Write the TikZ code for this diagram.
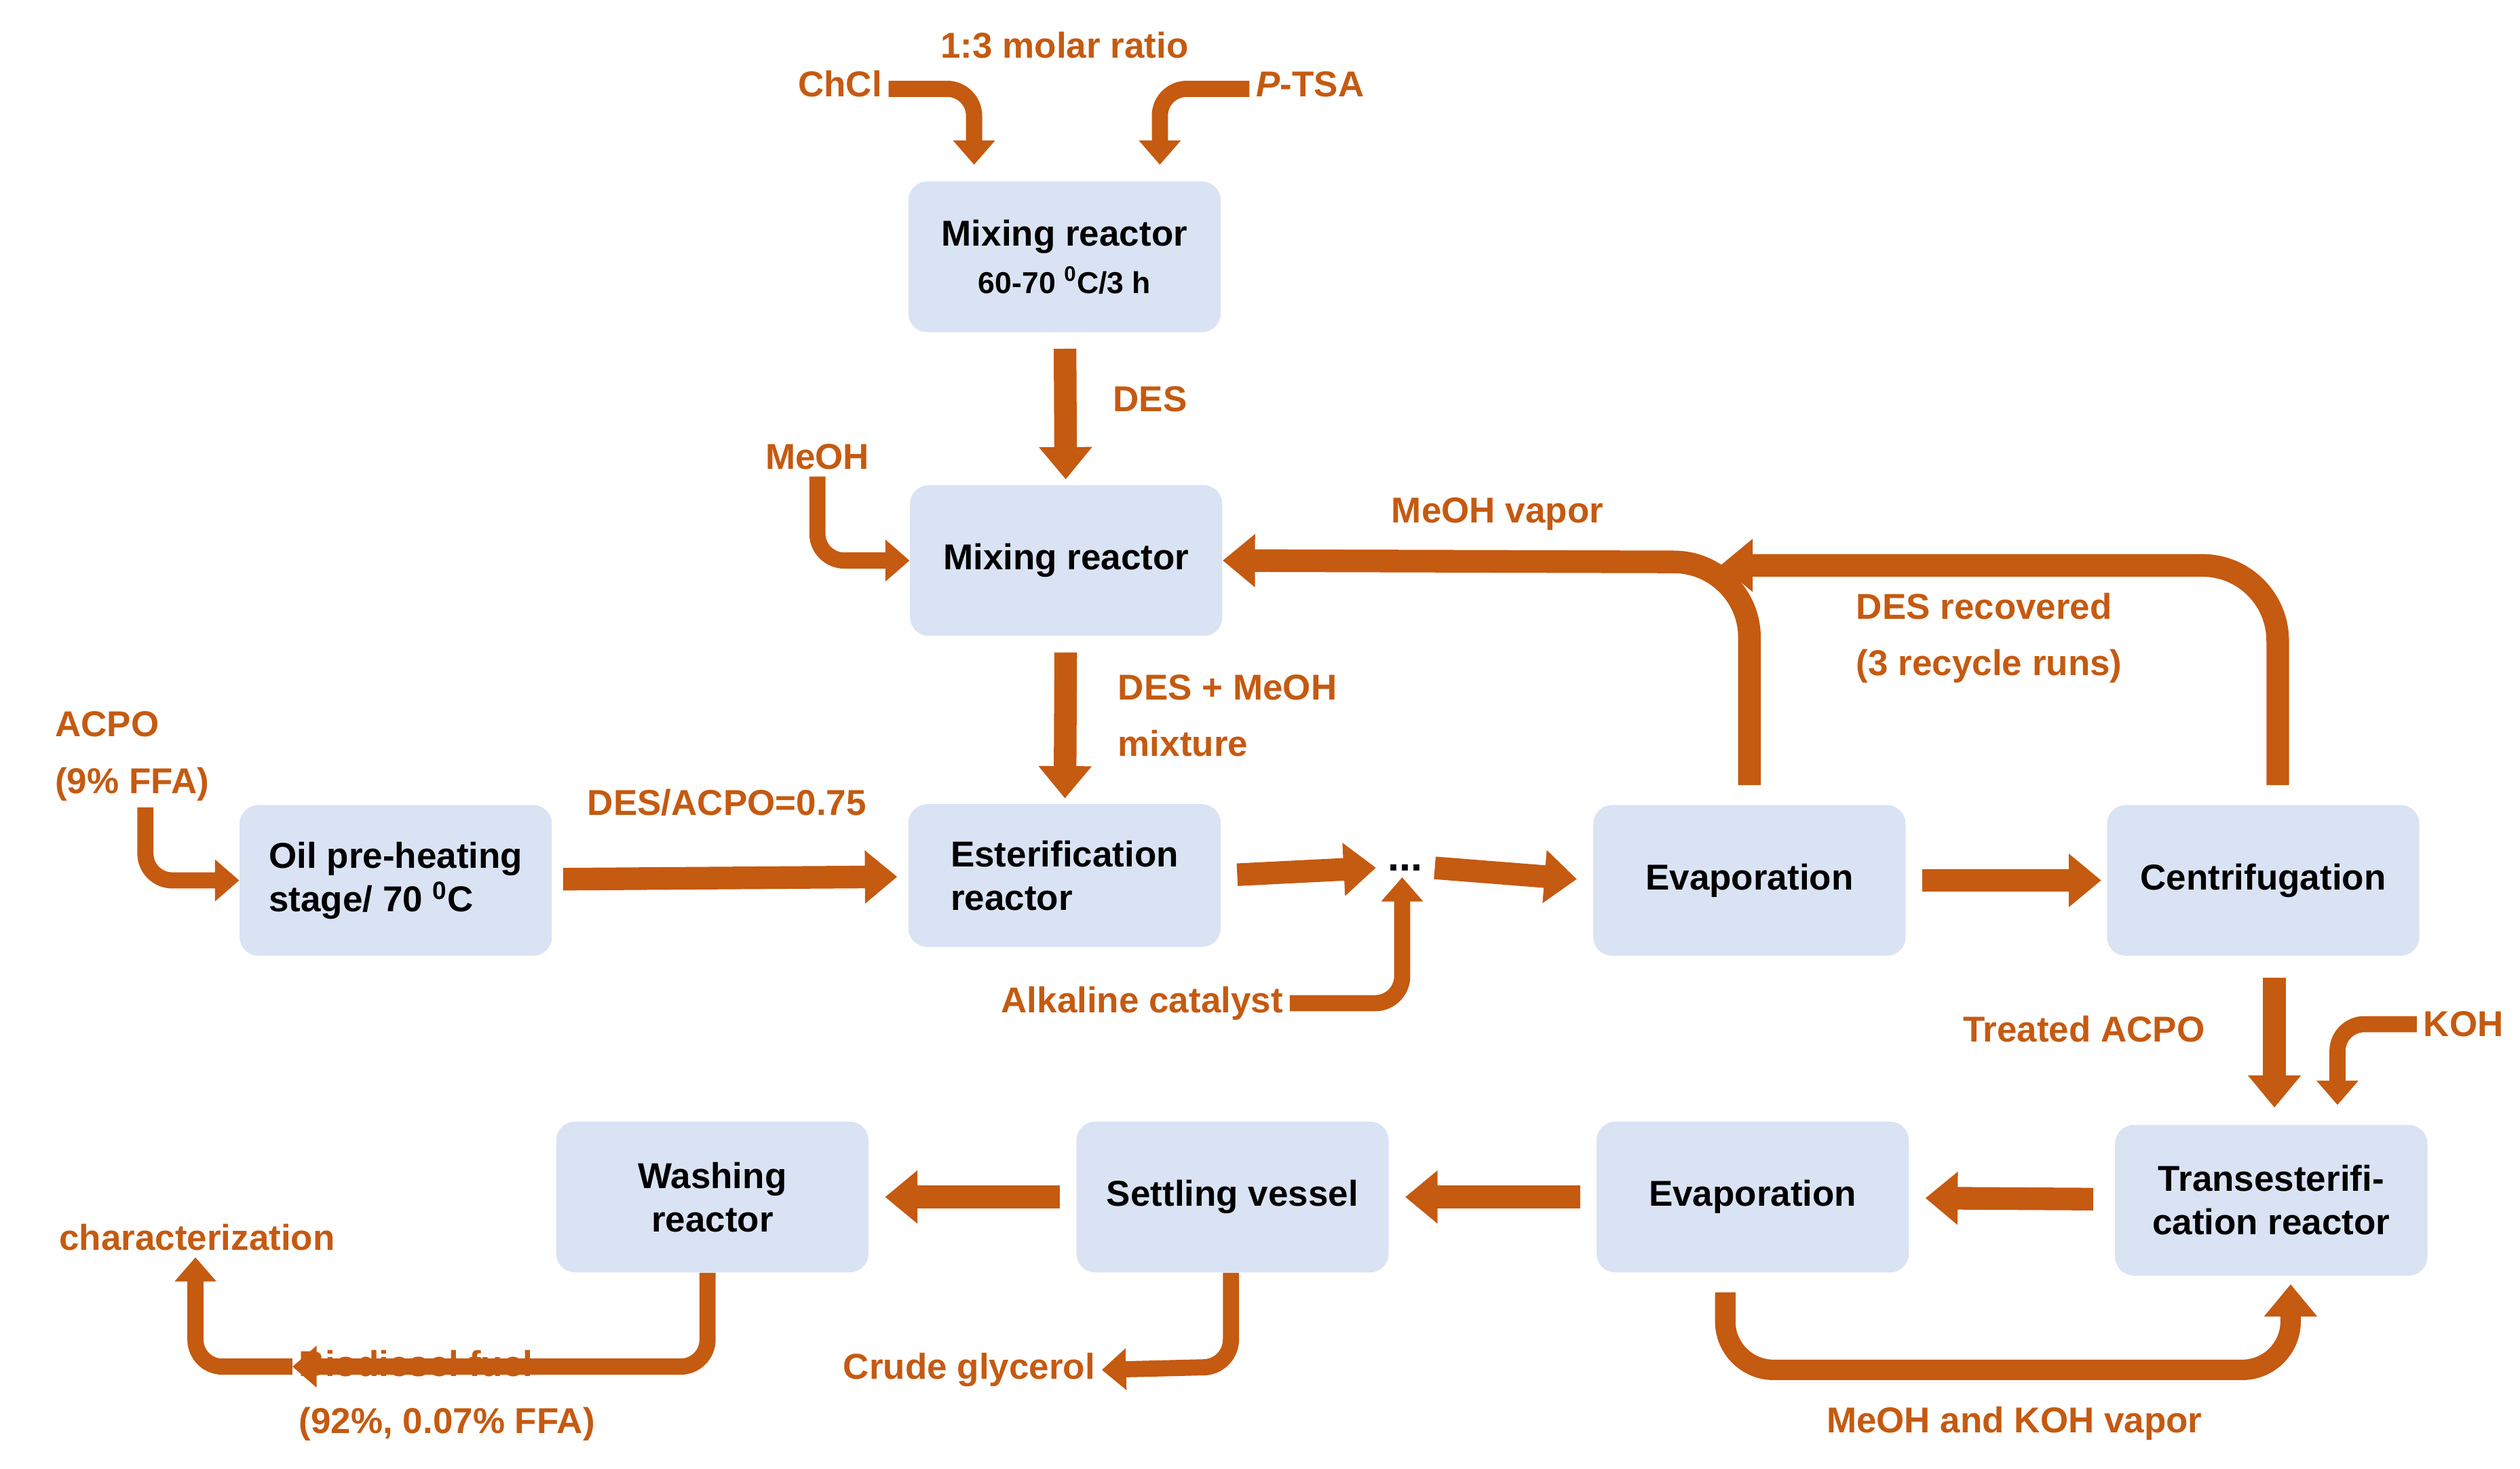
\documentclass[tikz,border=0pt]{standalone}
\usepackage{fontspec}
\setmainfont{Liberation Sans}
\usetikzlibrary{arrows.meta}
\definecolor{org}{RGB}{197,90,17}
\definecolor{boxc}{RGB}{218,227,243}
\begin{document}
\begin{tikzpicture}[x=0.03cm,y=-0.03cm,
  box/.style={fill=boxc,rounded corners=0.35cm,minimum width=5.8cm,minimum height=2.8cm,
    font=\fontsize{19}{23}\selectfont\bfseries,align=center},
  lab/.style={text=org,font=\fontsize{19}{30}\selectfont\bfseries},
  big/.style={draw=org,line width=0.42cm,-{Triangle[width=0.95cm,length=0.6cm]}},
  small/.style={draw=org,line width=0.3cm,rounded corners=0.5cm,-{Triangle[width=0.75cm,length=0.45cm]}}]
\useasboundingbox (0,0) rectangle (1560,909);
% boxes
\node[box] (mix1) at (659,159) {Mixing reactor\\[2pt]{\fontsize{16}{20}\selectfont 60-70 $^{\mathbf 0}$C/3 h}};
\node[box] (mix2) at (660,347) {Mixing reactor};
\node[box,align=left] (oil) at (245,545) {Oil pre-heating\\stage/ 70 $^{\mathbf 0}$C};
\node[box,align=left,minimum height=2.65cm] (est) at (659,542) {Esterification\\reactor};
\node[box] (ev1) at (1083,545) {Evaporation};
\node[box] (cen) at (1401,545) {Centrifugation};
\node[box] (tra) at (1406,743) {Transesterifi-\\cation reactor};
\node[box] (ev2) at (1085,741) {Evaporation};
\node[box] (set) at (763,741) {Settling vessel};
\node[box] (was) at (441,741) {Washing\\reactor};
\node[font=\fontsize{22}{22}\selectfont\bfseries] (dots) at (870,537) {...};
% labels
\node[lab] (ratio) at (659,28) {1:3 molar ratio};
\node[lab] (chcl) at (520,52) {ChCl};
\node[lab] (ptsa) at (811,52) {\textit{P}-TSA};
\node[lab] (des) at (712,247) {DES};
\node[lab] (meoh) at (506,283) {MeOH};
\node[lab] (vap) at (927,318) {MeOH vapor};
\node[lab,align=left,anchor=west] (rec) at (1145,395) {DES recovered\\(3 recycle runs)};
\node[lab,align=left,anchor=west] (mixt) at (688,443) {DES + MeOH\\mixture};
\node[lab,align=left,anchor=west] (acpo) at (30,468) {ACPO\\(9\% FFA)};
\node[lab] (ratio2) at (450,497) {DES/ACPO=0.75};
\node[lab] (alk) at (707,621) {Alkaline catalyst};
\node[lab] (tacpo) at (1290,637) {Treated ACPO};
\node[lab] (koh) at (1525,634) {KOH};
\node[lab] (char) at (122,766) {characterization};
\node[lab,align=left,anchor=west] (bio) at (181,864) {Biodiesel fuel\\(92\%, 0.07\% FFA)};
\node[lab] (gly) at (600,848) {Crude glycerol};
\node[lab] (mkv) at (1247,881) {MeOH and KOH vapor};
% straight connectors
\draw[big,shorten <=0.3cm,shorten >=0.1cm] (mix1) -- (mix2);
\draw[big,shorten <=0.3cm,shorten >=0.1cm] (mix2) -- (est);
\draw[big,shorten <=0.2cm,shorten >=0.2cm] (oil) -- (est);
\draw[big,shorten <=0.3cm,shorten >=0.1cm] (est.east) -- (dots.west);
\draw[big,shorten <=0.1cm,shorten >=0.3cm] (dots.east) -- (ev1.west);
\draw[big,shorten <=0.3cm,shorten >=0.1cm] (ev1) -- (cen);
\draw[big,shorten <=0.4cm,shorten >=0.1cm] (cen.south -| 1408,0) -- (1408,689);
\draw[big,shorten <=0.4cm,shorten >=0.3cm] (tra) -- (ev2);
\draw[big,shorten <=0.3cm,shorten >=0.3cm] (ev2) -- (set);
\draw[big,shorten <=0.3cm,shorten >=0.3cm] (set) -- (was);
% recycle loops
\coordinate (e1t) at (1083,486);
\draw[big,rounded corners=1.4cm] (e1t) -- (1083,348) -- (mix2.east);
\coordinate (ct) at (1410,486);
\coordinate (dh) at (1065,350);
\draw[big,rounded corners=1.4cm] (ct) -- (1410,350) -- (dh);
\coordinate (e2b) at (1068,800);
\coordinate (tb) at (1418,795);
\draw[big,line width=0.38cm,rounded corners=0.9cm] (e2b) -- (1068,848) -- (1418,848) -- (tb);
% small feed arrows
\draw[small] (chcl.east |- 0,55) -- (603,55) -- (603,102);
\draw[small] (ptsa.west |- 0,55) -- (718,55) -- (718,102);
\draw[small] (meoh.south -| 506,0) -- (506,347) -- (mix2.west);
\draw[small] (acpo.south -| 90,0) -- (90,545) -- (oil.west);
\draw[small] (alk.east) -- (868,621) -- (dots.south -| 868,0);
\draw[small] (koh.west) -- (1447,634) -- (1447,684);
\draw[small] (was.south -| 438,0) -- (438,846) -- (bio.north west |- 0,846);
\draw[small] (set.south -| 762,0) -- (762,846) -- (gly.east);
\draw[small] (bio.north west |- 0,846) -- (121,846) -- (char.south -| 121,0);
\end{tikzpicture}
\end{document}
